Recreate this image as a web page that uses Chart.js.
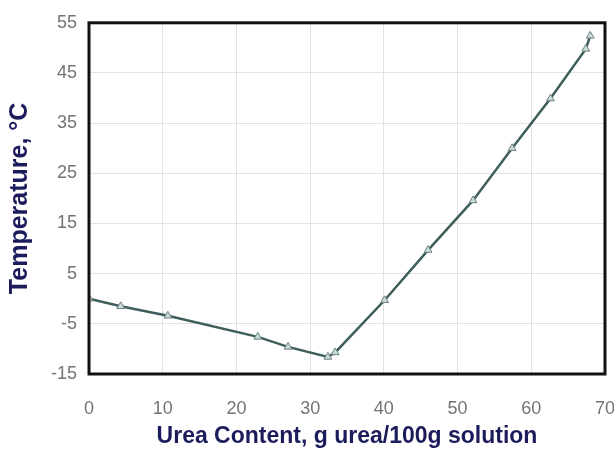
<!DOCTYPE html>
<html>
<head>
<meta charset="utf-8">
<script src="https://cdn.jsdelivr.net/npm/chart.js@4/dist/chart.umd.min.js"></script>
<style>
  html, body { margin: 0; padding: 0; background: #ffffff; overflow: hidden; width: 614px; height: 455px; }
  #wrap { position: absolute; left: 0; top: 0; width: 639px; height: 455px; }
</style>
</head>
<body>
<div id="wrap"><canvas id="c" width="639" height="455"></canvas></div>
<script>
// Data
const ureaContent = [0, 4.3, 10.7, 22.9, 27.0, 32.4, 33.4, 40.1, 46.0, 52.1, 57.4, 62.6, 67.4, 68.0];
const temperature = [0, -1.5, -3.4, -7.6, -9.6, -11.6, -10.7, -0.3, 9.7, 19.6, 30.0, 39.9, 49.8, 52.4];
const xTitle = 'Urea Content, g urea/100g solution';
const yTitle = 'Temperature, °C';

const points = ureaContent.map((x, i) => ({ x: x, y: temperature[i] }));

const frame = {
  id: 'frame',
  afterDatasetsDraw(chart) {
    const a = chart.chartArea, ctx = chart.ctx;
    ctx.save();
    ctx.strokeStyle = '#111111';
    ctx.lineWidth = 3;
    ctx.strokeRect(a.left, a.top, a.right - a.left, a.bottom - a.top);
    ctx.restore();
  }
};

new Chart(document.getElementById('c'), {
  type: 'line',
  data: {
    datasets: [{
      data: points,
      borderColor: '#3e5e5b',
      borderWidth: 2.5,
      pointStyle: 'triangle',
      pointRadius: 4.5,
      pointBackgroundColor: '#c9dada',
      pointBorderColor: '#6f8080',
      pointBorderWidth: 1,
      tension: 0,
      fill: false
    }]
  },
  options: {
    responsive: false,
    animation: false,
    layout: { padding: { left: 0, right: 0, top: 22, bottom: 0 } },
    plugins: { legend: { display: false }, tooltip: { enabled: false } },
    scales: {
      x: {
        type: 'linear',
        min: 0, max: 70,
        afterFit: s => { s.height = 81; },
        ticks: { stepSize: 10, padding: 24, color: '#737373', font: { family: 'Liberation Sans', size: 18 } },
        grid: { color: '#e2e2e2', lineWidth: 1, drawTicks: false },
        border: { display: false },
        title: { display: true, text: xTitle, color: '#1c1c5c', padding: { top: 0, bottom: 5 },
                 font: { family: 'Liberation Sans', size: 23, weight: 'bold' } }
      },
      y: {
        type: 'linear',
        min: -15, max: 55,
        afterFit: s => { s.width = 89; },
        ticks: { stepSize: 10, padding: 12, color: '#737373', font: { family: 'Liberation Sans', size: 18 } },
        grid: { color: '#e2e2e2', lineWidth: 1, drawTicks: false },
        border: { display: false },
        title: { display: true, text: yTitle, color: '#1c1c5c', padding: { top: 5, bottom: 0 },
                 font: { family: 'Liberation Sans', size: 25, weight: 'bold' } }
      }
    }
  },
  plugins: [frame]
});
</script>
</body>
</html>
